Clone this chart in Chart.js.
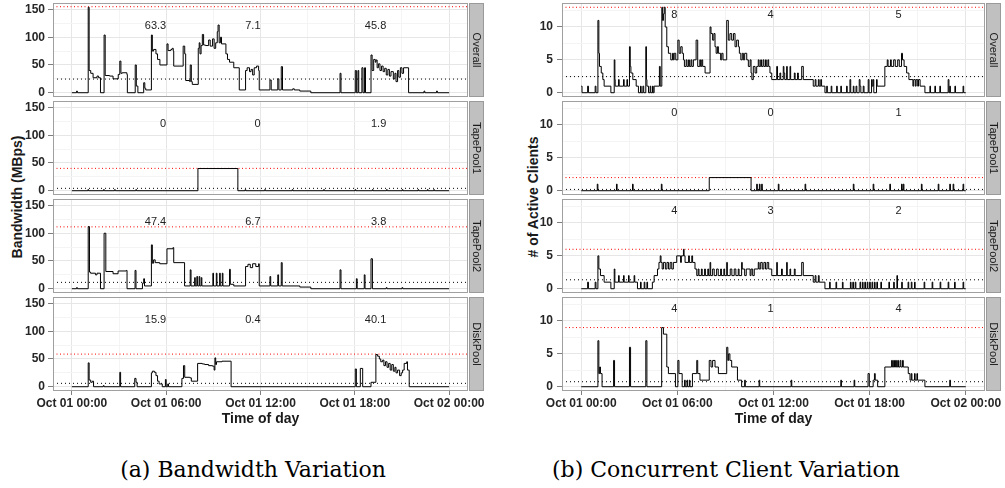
<!DOCTYPE html>
<html><head><meta charset="utf-8">
<script src="https://cdn.jsdelivr.net/npm/chart.js@4.4.1/dist/chart.umd.min.js"></script>
<style>
html,body{margin:0;padding:0;background:#fff;width:1005px;height:488px;overflow:hidden;position:relative;font-family:"Liberation Sans",Arial,sans-serif;}
canvas{position:absolute;}
.ytitle{position:absolute;font:bold 14px "Liberation Sans",Arial,sans-serif;color:#1a1a1a;white-space:nowrap;transform:translate(-50%,-50%) rotate(-90deg);}
.caption{position:absolute;font:22px "DejaVu Serif",serif;line-height:22px;color:#000;white-space:nowrap;transform:translateX(-50%);}
</style></head><body>
<div class="ytitle" style="left:17px;top:197px;">Bandwidth (MBps)</div>
<div class="ytitle" style="left:533px;top:197px;"># of Active Clients</div>
<div class="caption" style="left:253px;top:459px;">(a) Bandwidth Variation</div>
<div class="caption" style="left:726px;top:459px;">(b) Concurrent Client Variation</div>
<script>
// ---------- axes / labels ----------
const hoursMin = -1.2, hoursMax = 25.2;
const xTickHours = [0, 6, 12, 18, 24];
const xMinorHours = [3, 9, 15, 21];
const xTickLabels = ["Oct 01 00:00", "Oct 01 06:00", "Oct 01 12:00", "Oct 01 18:00", "Oct 02 00:00"];
const facetNames = ["Overall", "TapePool1", "TapePool2", "DiskPool"];
const bwTicks = [0, 50, 100, 150];
const bwMinorTicks = [25, 75, 125];
const clTicks = [0, 5, 10];
const clMinorTicks = [2.5, 7.5, 12.5];
const bwRange = [-7.7, 161.7];
const clRange = [-0.65, 13.65];

// ---------- reference lines (max = red, mean = black) ----------
const bwMax = [155, 40.3, 111.5, 58.8];
const bwMean = [24.6, 4.3, 11.5, 6.1];
const clMax = [13, 2, 6, 9];
const clMean = [2.45, 0.2, 1.36, 0.76];

// ---------- text annotations ----------
const noteHours = [6, 12, 20];
const bwNoteY = 120, clNoteY = 11.8;
const bwNotes = [["63.3", "7.1", "45.8"], ["0", "0", "1.9"], ["47.4", "6.7", "3.8"], ["15.9", "0.4", "40.1"]];
const clNotes = [["8", "4", "5"], ["0", "0", "1"], ["4", "3", "2"], ["4", "1", "4"]];

// ---------- series: [hour, value] step points ----------
const bwOverall = [[0,0],[0.3,3],[0.35,0],[1.04,154],[1.1,40],[1.2,35],[1.35,27],[1.6,30],[1.7,27],[1.82,0],[2.05,104],[2.12,31],[2.4,30],[2.62,25],[2.95,33],[3.05,57],[3.12,35],[3.2,36],[3.5,33],[3.53,0],[4.03,50],[4.1,12],[4.2,0],[4.57,18],[4.64,8],[4.7,5],[5.06,104],[5.12,75],[5.2,78],[5.35,70],[5.45,60],[5.6,50],[6.05,88],[6.12,76],[6.3,78],[6.38,80],[6.45,75],[6.48,48],[7.08,84],[7.18,70],[7.24,22],[7.5,20],[7.53,50],[7.6,20],[7.66,15],[8.04,80],[8.1,90],[8.15,70],[8.22,85],[8.3,105],[8.38,86],[8.5,85],[8.7,95],[8.8,84],[8.95,97],[9.05,80],[9.15,90],[9.25,110],[9.3,122],[9.37,90],[9.45,100],[9.52,88],[9.8,70],[9.9,60],[10.03,55],[10.3,45],[10.65,5],[11.05,40],[11.15,45],[11.3,38],[11.4,42],[11.5,32],[11.6,45],[11.75,48],[11.88,40],[11.92,5],[12.6,23],[12.68,5],[13.1,25],[13.17,5],[13.32,47],[13.4,5],[14.05,7],[14.15,5],[14.5,3],[15.2,0],[17.06,35],[17.12,0],[18.03,40],[18.1,0],[18.2,40],[18.25,0],[18.45,45],[18.52,0],[18.62,45],[18.68,0],[19.03,68],[19.1,40],[19.2,60],[19.3,55],[19.35,59],[19.42,45],[19.5,52],[19.6,40],[19.7,48],[19.8,38],[19.9,44],[20.0,32],[20.1,42],[20.2,30],[20.3,38],[20.45,25],[20.55,35],[20.62,20],[20.72,40],[20.8,28],[20.9,45],[21.0,35],[21.1,45],[21.42,0],[22.4,3],[22.45,0],[23.2,3],[23.25,0],[24,0]];
const bwTape1 = [[0,0],[1.02,2],[1.06,0],[2.02,2],[2.06,0],[2.72,2],[2.76,0],[4.07,2],[4.11,0],[8.02,40],[10.56,0],[11.02,2],[11.06,0],[12.27,2],[12.31,0],[14.02,2],[14.06,0],[16.02,2],[16.06,0],[18.02,2],[18.06,0],[19.12,2],[19.16,0],[20.02,2],[20.06,0],[21.02,2],[21.06,0],[22.02,2],[22.06,0],[22.62,2],[22.66,0],[23.02,2],[23.06,0],[24,0]];
const bwTape2 = [[0,0],[0.3,2],[0.35,0],[1.04,112],[1.12,30],[1.19,28],[1.5,25],[1.6,28],[1.82,0],[2.05,100],[2.16,31],[2.62,27],[2.94,32],[3.47,33],[3.51,0],[4.02,33],[4.08,0],[4.49,10],[4.57,18],[4.62,5],[5.06,79],[5.12,46],[5.2,52],[5.3,47],[5.59,45],[6.05,72],[6.43,74],[6.48,47],[7.17,5],[7.53,34],[7.58,5],[7.81,20],[7.85,5],[7.95,22],[8.0,5],[8.1,22],[8.14,5],[8.23,20],[8.27,5],[8.97,28],[9.01,5],[9.19,28],[9.23,5],[9.4,28],[9.44,5],[9.57,28],[9.61,5],[10.03,35],[10.08,8],[10.3,5],[11.05,40],[11.2,44],[11.35,38],[11.5,45],[11.7,40],[11.88,45],[11.92,5],[12.6,22],[12.65,5],[13.1,25],[13.15,5],[13.32,47],[13.38,5],[14.5,3],[15.2,0],[17.06,34],[17.12,0],[18.1,18],[18.15,0],[18.6,25],[18.65,0],[19.03,54],[19.12,0],[20.0,2],[20.05,0],[21.0,2],[21.05,0],[24,0]];
const bwDisk = [[0,0],[1.04,43],[1.1,12],[1.2,8],[1.3,10],[1.38,0],[2.0,2],[2.05,0],[3.05,26],[3.1,0],[4.0,15],[4.08,8],[4.15,0],[5.06,25],[5.12,28],[5.25,26],[5.35,20],[5.45,10],[5.55,5],[5.75,0],[5.95,13],[6.0,0],[6.1,5],[6.15,0],[7.0,15],[7.1,38],[7.18,17],[7.5,16],[7.6,10],[8.0,42],[8.3,41],[8.45,40],[8.7,38],[8.95,37],[9.05,30],[9.1,52],[9.15,40],[9.2,45],[9.55,46],[10.13,0],[18.03,32],[18.1,0],[18.35,33],[18.5,0],[19.03,8],[19.34,58],[19.45,55],[19.56,50],[19.65,45],[19.77,48],[19.85,38],[19.95,45],[20.05,35],[20.15,42],[20.25,30],[20.35,40],[20.45,28],[20.55,35],[20.62,25],[20.72,30],[20.85,20],[20.95,25],[21.04,30],[21.14,42],[21.3,45],[21.35,30],[21.46,0],[24,0]];

const clOverall = [[0,1],[0.05,0],[0.4,1],[0.45,0],[0.87,1],[0.92,0],[1.04,11],[1.1,6],[1.14,4],[1.25,3],[1.35,2],[1.43,1],[1.85,0],[2.06,5],[2.1,2],[2.12,1],[2.33,2],[2.37,1],[2.64,2],[2.68,1],[2.85,2],[2.89,1],[3.01,7],[3.06,4],[3.1,3],[3.22,2],[3.43,1],[3.57,0],[3.7,1],[3.74,0],[3.85,1],[3.9,0],[4.03,7],[4.07,2],[4.1,1],[4.2,0],[4.3,1],[4.34,0],[4.45,1],[4.49,0],[4.55,1],[4.88,4],[4.93,1],[5.03,13],[5.08,11],[5.13,12],[5.18,13],[5.24,10],[5.34,7],[5.44,6],[5.59,5],[5.7,6],[5.75,5],[5.8,6],[5.9,5],[6.03,8],[6.11,6],[6.21,7],[6.3,6],[6.38,5],[6.44,4],[6.55,5],[6.6,4],[6.7,5],[6.75,4],[6.85,5],[6.9,4],[7.0,5],[7.17,8],[7.27,4],[7.4,5],[7.45,4],[7.52,5],[7.58,4],[7.73,3],[8.04,10],[8.1,9],[8.2,8],[8.28,9],[8.35,7],[8.42,6],[8.5,7],[8.56,6],[8.7,5],[8.77,6],[8.85,5],[9.08,11],[9.18,8],[9.28,9],[9.39,8],[9.5,9],[9.6,7],[9.7,8],[9.81,7],[9.87,6],[9.96,5],[10.05,6],[10.12,5],[10.2,6],[10.33,5],[10.43,4],[10.54,5],[10.6,3],[10.65,2],[10.74,4],[10.85,3],[10.95,4],[11.05,5],[11.1,4],[11.2,5],[11.25,4],[11.35,5],[11.4,4],[11.5,5],[11.55,4],[11.65,5],[11.7,4],[11.78,3],[11.89,2],[12.2,4],[12.25,2],[12.4,3],[12.45,2],[12.61,4],[12.65,3],[12.7,2],[12.82,4],[12.86,2],[13.03,4],[13.07,2],[13.3,3],[13.35,2],[13.5,3],[13.55,2],[13.76,4],[13.86,2],[14.48,1],[14.6,2],[14.65,1],[14.8,2],[14.85,1],[14.95,2],[15.0,1],[15.21,0],[15.32,1],[15.36,0],[15.6,1],[15.64,0],[15.94,1],[15.98,0],[16.2,1],[16.24,0],[16.56,1],[16.6,0],[16.77,2],[16.82,0],[16.98,1],[17.02,0],[17.15,1],[17.2,0],[17.35,2],[17.4,1],[17.45,0],[17.6,1],[17.65,0],[17.91,2],[17.96,0],[18.12,2],[18.16,1],[18.22,2],[18.26,0],[18.43,2],[18.47,1],[18.95,4],[19.1,5],[19.15,4],[19.3,5],[19.35,4],[19.5,5],[19.6,4],[19.75,5],[19.85,4],[19.99,6],[20.05,5],[20.15,4],[20.31,3],[20.45,2],[20.7,1],[20.75,2],[20.85,1],[20.9,2],[21.0,1],[21.05,2],[21.15,1],[21.45,0],[21.76,1],[21.8,0],[22.07,1],[22.11,0],[22.38,1],[22.42,0],[22.9,2],[22.95,0],[23.0,1],[23.04,0],[23.32,1],[23.36,0],[23.83,1],[23.87,0],[24,0]];
const clTape1 = [[0,0],[1.0,1],[1.04,0],[2.2,1],[2.24,0],[3.2,1],[3.24,0],[5.0,1],[5.04,0],[7.99,2],[10.6,0],[10.95,1],[10.99,0],[11.12,1],[11.16,0],[11.26,1],[11.3,0],[12.3,1],[12.34,0],[13.97,1],[14.01,0],[16.98,1],[17.02,0],[18.22,1],[18.26,0],[19.26,1],[19.3,0],[19.99,1],[20.03,0],[20.1,1],[20.14,0],[21.23,1],[21.27,0],[22.28,1],[22.32,0],[23.0,1],[23.04,0],[23.21,1],[23.25,0],[23.83,1],[23.87,0],[24,0]];
const clTape2 = [[0,0],[0.4,1],[0.45,0],[0.87,1],[0.92,0],[1.04,5],[1.1,3],[1.2,2],[1.43,1],[1.85,0],[2.06,3],[2.1,1],[2.33,2],[2.37,1],[2.64,2],[2.68,1],[2.95,2],[2.99,1],[3.3,2],[3.34,1],[3.51,0],[3.7,1],[3.74,0],[3.93,1],[3.97,0],[4.1,1],[4.14,0],[4.44,1],[4.55,2],[4.76,3],[4.85,4],[4.93,5],[4.98,4],[5.05,3],[5.13,4],[5.25,3],[5.35,4],[5.45,3],[5.55,4],[5.65,3],[5.75,4],[5.96,5],[6.2,4],[6.25,5],[6.38,6],[6.42,5],[6.48,4],[6.7,5],[6.75,4],[6.9,5],[6.95,4],[7.1,3],[7.21,2],[7.3,3],[7.35,2],[7.5,3],[7.55,2],[7.7,3],[7.75,2],[7.9,3],[7.95,2],[8.04,4],[8.08,2],[8.2,3],[8.3,2],[8.45,3],[8.55,2],[8.7,3],[8.75,2],[8.9,3],[8.95,2],[9.08,4],[9.12,2],[9.3,3],[9.4,2],[9.55,3],[9.65,2],[9.8,3],[9.85,2],[10.01,4],[10.05,3],[10.2,2],[10.3,3],[10.54,2],[10.6,3],[10.7,2],[10.8,3],[11.05,4],[11.1,3],[11.2,4],[11.3,3],[11.4,4],[11.5,3],[11.6,4],[11.7,3],[11.89,2],[12.2,4],[12.24,2],[12.5,3],[12.55,2],[12.82,4],[12.86,2],[13.03,3],[13.07,2],[13.3,3],[13.35,2],[13.76,4],[13.86,2],[14.48,1],[14.6,2],[14.65,1],[14.8,2],[14.85,1],[15.21,0],[15.5,1],[15.54,0],[15.9,1],[15.94,0],[16.3,1],[16.34,0],[16.8,1],[16.84,0],[16.95,1],[16.99,0],[17.1,1],[17.14,0],[17.4,1],[17.44,0],[17.55,1],[17.59,0],[17.7,1],[17.74,0],[17.85,1],[17.89,0],[18.0,1],[18.04,0],[18.15,1],[18.19,0],[18.3,1],[18.34,0],[18.45,1],[18.49,0],[18.7,1],[18.74,0],[19.2,1],[19.24,0],[19.5,1],[19.54,0],[19.7,2],[19.74,0],[20.0,1],[20.04,0],[20.4,1],[20.44,0],[20.6,1],[20.64,0],[20.8,1],[20.84,0],[21.4,1],[21.44,0],[21.9,1],[21.94,0],[22.4,1],[22.44,0],[22.9,1],[22.94,0],[23.3,1],[23.34,0],[23.83,1],[23.87,0],[24,0]];
const clDisk = [[0,0],[1.04,7],[1.1,2],[1.15,3],[1.2,2],[1.3,0],[2.02,4],[2.08,0],[3.01,6],[3.08,0],[4.03,7],[4.1,0],[5.02,9],[5.13,8],[5.34,3],[5.44,2],[5.88,0],[6.03,4],[6.1,2],[6.3,0],[6.45,1],[6.49,0],[6.6,1],[6.64,0],[6.75,1],[6.79,0],[6.94,2],[7.21,4],[7.27,2],[7.41,1],[7.99,4],[8.1,3],[8.2,4],[8.35,3],[8.56,2],[9.08,6],[9.15,4],[9.2,5],[9.28,4],[9.39,3],[9.75,1],[10.01,0],[10.2,1],[10.24,0],[11.1,1],[11.14,0],[13.1,1],[13.14,0],[16.2,1],[16.24,0],[17.03,1],[17.07,0],[17.9,2],[17.98,0],[18.22,1],[18.3,2],[18.35,1],[18.5,0],[18.95,3],[19.37,4],[19.42,3],[19.5,4],[19.55,3],[19.62,4],[19.67,3],[19.75,4],[19.8,3],[19.9,4],[19.95,3],[20.05,4],[20.1,3],[20.41,2],[20.52,1],[20.6,2],[20.64,1],[20.8,2],[20.84,1],[20.95,2],[20.99,1],[21.45,0],[23.0,1],[23.04,0],[24,0]];

const bwSeries = [bwOverall, bwTape1, bwTape2, bwDisk];
const clSeries = [clOverall, clTape1, clTape2, clDisk];

// ---------- layout ----------
const facetTops = [3, 101, 199, 297];
const facetH = 94;
const PADT = 12, PADB = 12, PADR = 22, XAXH = 37, PADBB = 5;
const FONT = '"Liberation Sans", Arial, sans-serif';

const facetDecor = {
  id: 'facetDecor',
  afterDatasetsDraw(chart, args, o) {
    const {ctx, chartArea: a} = chart;
    const L = Math.round(a.left), T = Math.round(a.top), R = Math.round(a.right), B = Math.round(a.bottom);
    ctx.save();
    ctx.strokeStyle = '#a0a0a0'; ctx.lineWidth = 1;
    ctx.strokeRect(L + 0.5, T + 0.5, R - L - 1, B - T - 1);
    const sx = R + 1, sw = 15;
    ctx.fillStyle = '#c0c0c0';
    ctx.fillRect(sx, T, sw, B - T);
    ctx.strokeStyle = '#9a9a9a';
    ctx.strokeRect(sx + 0.5, T + 0.5, sw - 1, B - T - 1);
    ctx.translate(sx + sw / 2, (T + B) / 2);
    ctx.rotate(Math.PI / 2);
    ctx.font = '11px ' + FONT; ctx.fillStyle = '#1a1a1a';
    ctx.textAlign = 'center'; ctx.textBaseline = 'middle';
    ctx.fillText(o.strip, 0, 0);
    ctx.restore();
    ctx.save();
    ctx.font = '11px ' + FONT; ctx.fillStyle = '#222';
    ctx.textAlign = 'right'; ctx.textBaseline = 'middle';
    const xs = chart.scales.x, ys = chart.scales.y;
    o.notes.forEach((t, j) => ctx.fillText(t, xs.getPixelForValue(noteHours[j]), ys.getPixelForValue(o.noteY)));
    ctx.restore();
  }
};

function makeFacet(left, width, i, yAxisW, yPad, series, range, majors, minors, maxV, meanV, notes, noteY) {
  const isBottom = i === 3;
  const cv = document.createElement('canvas');
  const h = PADT + facetH + (isBottom ? XAXH + PADBB : PADB);
  cv.width = width; cv.height = h;
  cv.style.left = left + 'px'; cv.style.top = (facetTops[i] - PADT) + 'px';
  cv.style.width = width + 'px'; cv.style.height = h + 'px';
  document.body.appendChild(cv);
  const xTicksAll = [...xTickHours, ...xMinorHours].sort((a, b) => a - b);
  const yTicksAll = [...majors, ...minors].sort((a, b) => a - b);
  new Chart(cv, {
    type: 'line',
    data: {
      datasets: [
        { data: series.map(p => ({x: p[0], y: p[1]})), stepped: true, borderColor: '#000', borderWidth: 1, pointRadius: 0, fill: false },
        { data: [{x: hoursMin, y: meanV}, {x: hoursMax, y: meanV}], borderColor: '#000', borderWidth: 1, borderDash: [1, 3], pointRadius: 0 },
        { data: [{x: hoursMin, y: maxV}, {x: hoursMax, y: maxV}], borderColor: '#ff0000', borderWidth: 1, borderDash: [1, 2.5], pointRadius: 0 }
      ]
    },
    options: {
      responsive: false, animation: false, events: [],
      layout: { padding: { left: 0, right: PADR, top: PADT, bottom: isBottom ? PADBB : PADB } },
      plugins: { legend: { display: false }, tooltip: { enabled: false }, facetDecor: { strip: facetNames[i], notes: notes, noteY: noteY } },
      scales: {
        x: {
          type: 'linear', min: hoursMin, max: hoursMax,
          afterBuildTicks: s => { s.ticks = xTicksAll.map(v => ({value: v})); },
          afterFit: s => { s.height = isBottom ? XAXH : 0; },
          ticks: { display: isBottom, autoSkip: false, maxRotation: 0, padding: 1, color: '#262626',
                   font: { family: FONT, size: 12, weight: 'bold' },
                   callback: v => { const k = xTickHours.indexOf(v); return k >= 0 ? xTickLabels[k] : ''; } },
          grid: { drawTicks: isBottom, tickLength: 4, lineWidth: 1,
                  color: c => xTickHours.includes(c.tick.value) ? '#e6e6e6' : '#f4f4f4',
                  tickColor: c => xTickHours.includes(c.tick.value) ? '#7f7f7f' : 'rgba(0,0,0,0)' },
          border: { display: false },
          title: { display: isBottom, text: 'Time of day', color: '#1a1a1a', padding: 0, font: { family: FONT, size: 14, weight: 'bold' } }
        },
        y: {
          type: 'linear', min: range[0], max: range[1],
          afterBuildTicks: s => { s.ticks = yTicksAll.map(v => ({value: v})); },
          afterFit: s => { s.width = yAxisW; },
          ticks: { autoSkip: false, padding: yPad, color: '#262626', font: { family: FONT, size: 12, weight: 'bold' },
                   callback: v => majors.includes(v) ? String(v) : '' },
          grid: { tickLength: 5, lineWidth: 1,
                  color: c => majors.includes(c.tick.value) ? '#e6e6e6' : '#f4f4f4',
                  tickColor: c => majors.includes(c.tick.value) ? '#7f7f7f' : 'rgba(0,0,0,0)' },
          border: { display: false }
        }
      }
    },
    plugins: [facetDecor]
  });
}

for (let i = 0; i < 4; i++) {
  makeFacet(0, 468 + PADR, i, 53, 3, bwSeries[i], bwRange, bwTicks, bwMinorTicks, bwMax[i], bwMean[i], bwNotes[i], bwNoteY);
  makeFacet(500, 485 + PADR, i, 62, 4, clSeries[i], clRange, clTicks, clMinorTicks, clMax[i], clMean[i], clNotes[i], clNoteY);
}
</script>
</body></html>
